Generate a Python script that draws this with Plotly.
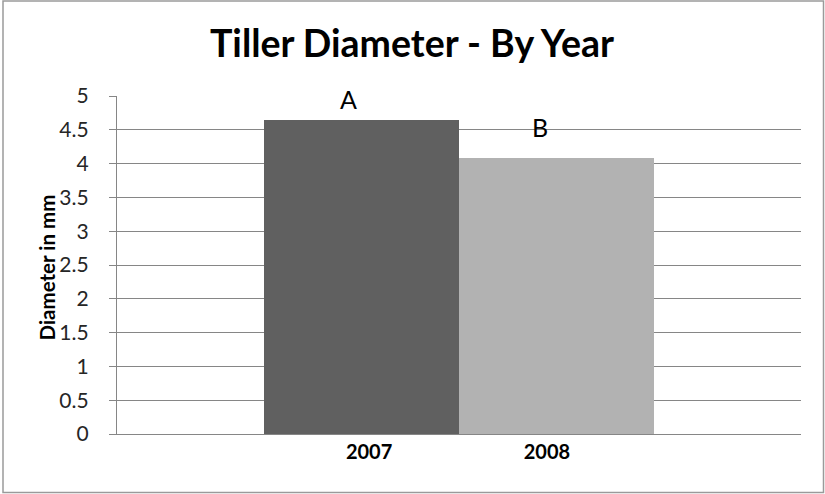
import plotly.graph_objects as go

# Mean tiller diameter per year
years = ["2007", "2008"]
diameters = [4.65, 4.08]
letters = ["A", "B"]
bar_colors = ["#606060", "#b2b2b2"]

y_ticks = [0, 0.5, 1, 1.5, 2, 2.5, 3, 3.5, 4, 4.5, 5]
y_tick_text = ["0", "0.5", "1", "1.5", "2", "2.5", "3", "3.5", "4", "4.5", "5"]

W, H = 825, 494
ML, MR, MT, MB = 117, 24, 96, 60
pw, ph = W - ML - MR, H - MT - MB

positions = list(range(len(years)))

fig = go.Figure()
fig.add_trace(go.Bar(
    x=positions,
    y=diameters,
    width=1.0,
    marker=dict(color=bar_colors, line=dict(width=0)),
    hoverinfo="skip",
    showlegend=False,
))

# significance letters above each bar
letter_shift = [4, 14]
letter_dx = [-13, -17]
for i, (pos, val, lab) in enumerate(zip(positions, diameters, letters)):
    fig.add_annotation(
        x=pos, y=val, text=lab, showarrow=False,
        xref="x", yref="y", yanchor="bottom",
        yshift=letter_shift[i], xshift=letter_dx[i],
        font=dict(family="Lato, sans-serif", size=25, color="#000000"),
    )

# vertical axis title
fig.add_annotation(
    x=(46.5 - ML) / pw, y=1 - (268 - MT) / ph,
    xref="paper", yref="paper", xanchor="center", yanchor="middle",
    text="<b>Diameter in mm</b>", textangle=-90, showarrow=False,
    font=dict(family="Lato, sans-serif", size=20.5, color="#000000"),
)

pad = "\u00a0" * 3

fig.update_layout(
    width=W, height=H,
    margin=dict(l=ML, r=MR, t=MT, b=MB),
    paper_bgcolor="#ffffff",
    plot_bgcolor="#ffffff",
    title=dict(
        text="<b>Tiller Diameter - By Year</b>",
        x=412 / W, xref="container", xanchor="center",
        y=1 - 44 / H, yref="container", yanchor="middle",
        font=dict(family="Lato, sans-serif", size=37.5, color="#000000"),
    ),
    xaxis=dict(
        range=[-1.25, 2.25],
        tickmode="array",
        tickvals=[positions[0] + 0.04, positions[1] - 0.05],
        ticktext=[f"<b>{y}</b>" for y in years],
        showgrid=False, zeroline=False,
        showline=True, linecolor="#868686", linewidth=1,
        ticks="",
        tickfont=dict(family="Lato, sans-serif", size=20, color="#000000"),
        fixedrange=True,
    ),
    yaxis=dict(
        range=[0, 5],
        tickmode="array", tickvals=y_ticks,
        ticktext=[t + pad for t in y_tick_text],
        showgrid=True, gridcolor="#868686", gridwidth=1,
        zeroline=False,
        showline=True, linecolor="#868686", linewidth=1,
        ticks="outside", ticklen=7, tickcolor="#868686",
        tickfont=dict(family="Lato, sans-serif", size=21, color="#262626"),
        fixedrange=True,
    ),
    bargap=0,
)

# outer chart border
fig.add_shape(
    type="rect", xref="paper", yref="paper",
    x0=(3 - ML) / pw, x1=(823.5 - ML) / pw,
    y0=1 - (492.5 - MT) / ph, y1=1 - (1 - MT) / ph,
    line=dict(color="#9a9a9a", width=1.5),
    fillcolor="rgba(0,0,0,0)",
    layer="below",
)

fig.write_html("out.html")
